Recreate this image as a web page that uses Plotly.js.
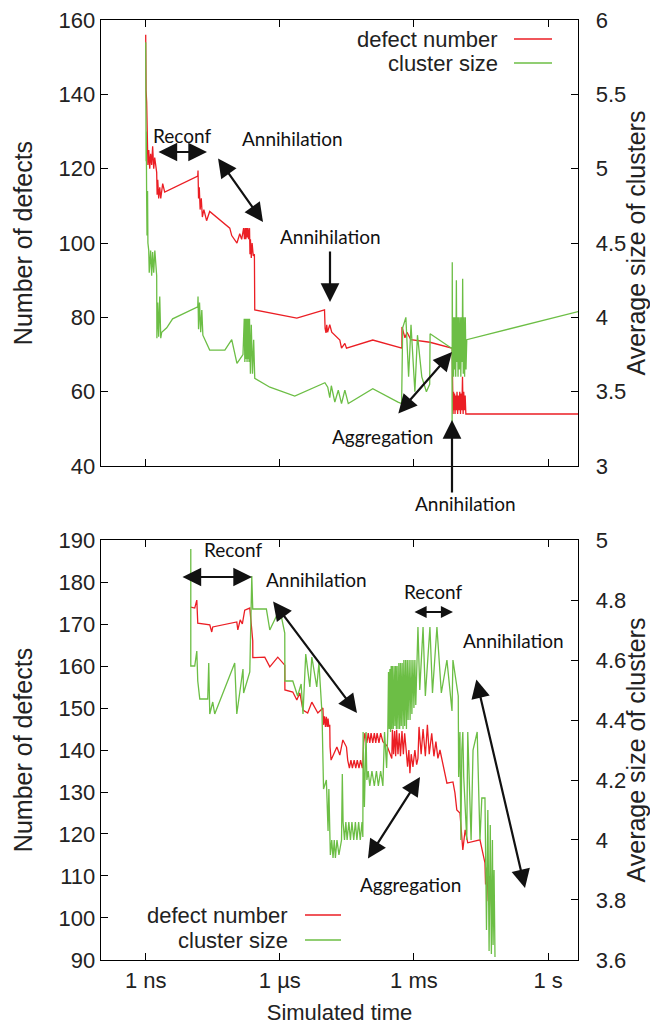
<!DOCTYPE html>
<html>
<head>
<meta charset="utf-8">
<script src="https://cdn.plot.ly/plotly-3.0.1.min.js"></script>
<style>html,body{margin:0;padding:0;background:#fff}#chart{width:650px;height:1029px}</style>
</head>
<body>
<div id="chart"></div>
<script>
// ---------- DATA (time in seconds) ----------
var tickVals = [1e-9, 1e-6, 1e-3, 1];
var tickText = ['1 ns', '1 µs', '1 ms', '1 s'];
var seriesNames = ['defect number', 'cluster size'];

// Top panel: defect number
var topDefT = [1.0e-9,1.0e-9,1.02e-9,1.05e-9,1.08e-9,1.12e-9,1.17e-9,1.23e-9,1.29e-9,1.36e-9,1.43e-9,1.51e-9,1.59e-9,1.76e-9,1.8e-9,1.86e-9,1.95e-9,2.06e-9,2.17e-9,2.4e-9,2.66e-9,
  1.46e-8,1.48e-8,1.52e-8,1.58e-8,1.65e-8,1.75e-8,1.85e-8,2.0e-8,2.3e-8,2.7e-8,7.6e-8,8.4e-8,1.1e-7,1.27e-7,1.4e-7,
  1.55e-7,1.62e-7,1.68e-7,1.74e-7,1.8e-7,1.86e-7,1.93e-7,2.0e-7,2.1e-7,2.15e-7,2.2e-7,2.3e-7,2.4e-7,2.55e-7,2.7e-7,2.75e-7,
  2.4e-6,1.0e-5,1.03e-5,1.08e-5,1.12e-5,1.17e-5,1.31e-5,1.45e-5,2.2e-5,2.4e-5,2.85e-5,3.1e-5,3.69e-5,1.2e-4,5.38e-4,5.4e-4,6.3e-4,7.0e-4,8.5e-4,2.28e-3,7.1e-3,
  7.2e-3,7.3e-3,7.5e-3,7.7e-3,7.9e-3,8.1e-3,8.3e-3,8.6e-3,8.9e-3,9.2e-3,9.5e-3,9.8e-3,1.02e-2,1.06e-2,1.1e-2,1.14e-2,1.18e-2,1.22e-2,1.26e-2,1.3e-2,1.35e-2,1.4e-2,1.45e-2,1.52e-2,4.9];
var topDefV = [156,151,141,138,126,121,125,120,124,121,126,120,123,119,113,117,112,115,112,116,113.7,
  118,119.5,112,115,109,112,107,109,106,108.5,104,102,100,102.5,101,
  104,101,104,101,104,101.5,104,101,104,97,101,96,100,96.5,97,82,
  79.8,82,77,75.8,78,76,78,76,73.9,71.7,73,71.7,72,73.9,71.7,77.4,74.5,76,74,73.3,71.7,
  72,64,54,60,55,59.5,54,59,55,60,54,59,55,60,54,59.5,55,64,54,60,55,59,54,54,54];

// Top panel: cluster size
var topCluT = [1.0e-9,1.0e-9,1.02e-9,1.03e-9,1.05e-9,1.07e-9,1.1e-9,1.12e-9,1.17e-9,1.2e-9,1.29e-9,1.36e-9,1.43e-9,1.51e-9,1.6e-9,1.76e-9,1.78e-9,1.86e-9,1.95e-9,2.06e-9,2.17e-9,2.28e-9,2.95e-9,4.0e-9,
  1.46e-8,1.48e-8,1.52e-8,1.6e-8,1.7e-8,1.8e-8,1.9e-8,2.7e-8,5.9e-8,8.4e-8,1.1e-7,1.5e-7,
  1.6e-7,1.65e-7,1.7e-7,1.75e-7,1.8e-7,1.85e-7,1.9e-7,1.95e-7,2.0e-7,2.05e-7,2.1e-7,2.2e-7,2.3e-7,2.45e-7,2.6e-7,2.75e-7,
  6.0e-7,2.16e-6,1.02e-5,1.18e-5,1.31e-5,1.42e-5,1.7e-5,2.03e-5,2.4e-5,2.85e-5,3.4e-5,1.2e-4,4.4e-4,
  5.3e-4,5.6e-4,6.6e-4,7.6e-4,8.6e-4,1.05e-3,1.2e-3,1.5e-3,1.9e-3,2.25e-3,2.3e-3,7.1e-3,
  7.15e-3,7.2e-3,7.3e-3,7.5e-3,7.7e-3,7.9e-3,8.1e-3,8.3e-3,8.6e-3,8.9e-3,9.1e-3,9.4e-3,9.7e-3,1.0e-2,1.04e-2,1.08e-2,1.12e-2,1.16e-2,1.2e-2,1.23e-2,1.27e-2,1.31e-2,1.36e-2,1.41e-2,1.46e-2,1.52e-2,4.9];
var topCluV = [5.85,5.3,5.05,5.25,4.8,4.55,4.85,4.5,4.45,4.3,4.45,4.28,4.44,4.3,4.45,4.28,3.86,4.1,3.87,4.14,3.86,3.9,3.93,3.99,
  4.07,4.14,3.92,4.1,3.9,4.05,3.88,3.78,3.78,3.85,3.69,3.75,
  3.99,3.7,3.99,3.72,3.99,3.7,3.99,3.72,3.99,3.7,3.99,3.62,3.95,3.62,3.85,3.59,
  3.53,3.47,3.56,3.53,3.46,3.54,3.43,3.51,3.42,3.51,3.42,3.52,3.43,
  3.42,3.93,4.0,3.6,3.95,3.5,3.88,3.6,3.5,3.55,3.89,3.79,
  3.24,4.37,3.7,4.0,3.6,4.0,3.65,4.0,3.6,4.25,3.7,4.0,3.6,4.0,3.65,4.0,3.6,4.0,3.7,4.26,3.62,4.0,3.6,4.0,3.65,3.85,4.04];

// Bottom panel: defect number
var botDefT = [1.02e-8,1.25e-8,1.39e-8,1.46e-8,2.71e-8,3.0e-8,3.16e-8,1.09e-7,1.15e-7,1.3e-7,1.45e-7,1.64e-7,2.13e-7,2.36e-7,2.48e-7,2.49e-7,4.61e-7,5.97e-7,9.0e-7,1.29e-6,1.3e-6,1.95e-6,2.4e-6,2.8e-6,3.3e-6,4.2e-6,5.2e-6,7.1e-6,9.2e-6,
  9.5e-6,1.0e-5,1.05e-5,1.1e-5,1.15e-5,1.2e-5,1.25e-5,1.31e-5,1.33e-5,1.4e-5,1.6e-5,1.89e-5,2.2e-5,2.57e-5,3.1e-5,3.3e-5,
  3.6e-5,3.9e-5,4.2e-5,4.6e-5,5.0e-5,5.4e-5,5.9e-5,6.4e-5,7.0e-5,7.2e-5,
  7.5e-5,8.0e-5,8.85e-5,9.5e-5,1.03e-4,1.1e-4,1.2e-4,1.3e-4,1.4e-4,1.5e-4,1.65e-4,1.8e-4,2.02e-4,
  2.5e-4,3.2e-4,3.3e-4,3.5e-4,3.7e-4,3.9e-4,4.1e-4,4.4e-4,4.7e-4,5.0e-4,5.4e-4,5.8e-4,6.2e-4,6.7e-4,7.2e-4,7.7e-4,8.13e-4,8.7e-4,9.5e-4,1.05e-3,1.15e-3,1.23e-3,
  1.3e-3,1.45e-3,1.6e-3,1.8e-3,2.0e-3,2.2e-3,2.5e-3,2.8e-3,3.1e-3,3.44e-3,3.82e-3,5.47e-3,7.46e-3,8.27e-3,9.1e-3,1.07e-2,1.18e-2,1.24e-2,1.4e-2,1.6e-2,3.0e-2,3.88e-2,4.0e-2,4.3e-2,4.6e-2,5.0e-2,5.5e-2,5.9e-2,6.0e-2];
var botDefV = [174,173.8,175.7,170.2,169.8,168.1,169.3,170.5,168.6,171,170,173.3,173.8,169.3,166,162,162.1,159.8,162.1,160.2,154.3,153.8,151.9,153.6,149.5,148.8,151.4,148.8,150,
  146,148,145.5,147.9,145.5,147.5,145.5,146,140.7,137.6,139,140.7,138.8,142.4,140.7,137.6,
  135.7,137.6,135.7,137.6,135.7,137.6,135.7,137.6,135.7,137,
  141.7,144,141.7,144,141.7,144,141.7,144,141.7,144,141.7,144,142,
  141,138,144.8,139,144.5,138.5,144.8,139,144,138.5,144.5,139,144,140,136,140,134.5,139,136,140,136.5,138,
  145.5,139,145,138.5,146,139,144,138.5,142,138,140,132.1,132.4,129.8,125.7,125,120.2,116.2,121,117.9,118.6,113.1,108,112,104,110,102,106,103];

// Bottom panel: cluster size
var botCluT = [1.02e-8,1.02e-8,1.25e-8,1.39e-8,1.46e-8,1.62e-8,2.44e-8,2.57e-8,2.71e-8,3.16e-8,3.5e-8,9.8e-8,1.09e-7,1.5e-7,1.55e-7,2.13e-7,2.36e-7,2.48e-7,5.0e-7,5.97e-7,1.0e-6,1.29e-6,1.3e-6,1.95e-6,2.5e-6,3.0e-6,3.3e-6,3.8e-6,4.7e-6,5.2e-6,6.7e-6,7.5e-6,8.8e-6,
  9.5e-6,1.1e-5,1.2e-5,1.25e-5,1.35e-5,1.45e-5,1.55e-5,1.65e-5,1.75e-5,1.9e-5,2.1e-5,2.4e-5,2.5e-5,2.6e-5,2.8e-5,3.0e-5,3.2e-5,3.5e-5,3.8e-5,4.1e-5,4.5e-5,4.9e-5,5.3e-5,5.8e-5,6.3e-5,6.9e-5,7.2e-5,
  7.3e-5,7.8e-5,8.5e-5,8.85e-5,9.5e-5,1.03e-4,1.15e-4,1.3e-4,1.45e-4,1.6e-4,1.8e-4,2.02e-4,2.2e-4,2.45e-4,
  2.6e-4,2.7e-4,2.8e-4,2.9e-4,3.0e-4,3.1e-4,3.2e-4,3.3e-4,3.45e-4,3.6e-4,3.75e-4,3.9e-4,4.05e-4,4.2e-4,4.4e-4,4.6e-4,4.8e-4,5.0e-4,5.2e-4,5.45e-4,5.7e-4,5.95e-4,6.2e-4,6.5e-4,6.8e-4,7.1e-4,7.4e-4,7.8e-4,8.2e-4,8.6e-4,9.0e-4,9.5e-4,1.0e-3,1.05e-3,1.1e-3,
  1.23e-3,1.35e-3,1.6e-3,1.8e-3,2.28e-3,2.6e-3,3.27e-3,4.1e-3,5.47e-3,7.1e-3,7.46e-3,9.8e-3,1.0e-2,1.07e-2,1.12e-2,1.18e-2,1.24e-2,1.3e-2,1.52e-2,1.6e-2,1.9e-2,2.1e-2,2.6e-2,3.0e-2,3.3e-2,3.88e-2,
  4.2e-2,4.5e-2,4.8e-2,5.1e-2,5.4e-2,5.7e-2,5.9e-2,6.2e-2,6.5e-2];
var botCluV = [4.97,4.58,4.58,4.63,4.53,4.47,4.47,4.59,4.42,4.46,4.42,4.59,4.42,4.57,4.49,4.56,4.88,4.77,4.77,4.7,4.77,4.69,4.53,4.53,4.48,4.52,4.42,4.62,4.51,4.61,4.51,4.59,4.42,
  4.17,4.2,4.03,4.17,3.95,4.0,3.94,4.0,3.94,4.0,3.95,4.0,4.22,4.06,4.0,4.06,4.0,4.06,4.0,4.06,4.0,4.06,4.0,4.06,4.0,4.06,4.01,
  4.36,4.11,4.36,4.2,4.23,4.18,4.23,4.18,4.23,4.18,4.23,4.18,4.36,4.24,
  4.36,4.56,4.37,4.57,4.36,4.58,4.37,4.58,4.37,4.58,4.38,4.58,4.37,4.58,4.37,4.59,4.37,4.59,4.38,4.59,4.37,4.6,4.38,4.6,4.37,4.6,4.4,4.6,4.4,4.6,4.42,4.6,4.44,4.6,4.45,
  4.71,4.5,4.71,4.48,4.71,4.49,4.71,4.49,4.6,4.43,4.6,4.48,4.21,4.36,4.0,4.3,4.36,4.21,4.0,4.36,4.0,4.3,4.36,4.0,4.14,4.14,
  3.7,4.1,3.63,4.05,3.62,4.0,3.65,3.9,3.61];

// ---------- STYLE ----------
var RED = 'rgb(235,30,36)';
var GREEN = 'rgb(108,190,69)';
var LW = 1.3;
var tickFont = {family: 'Liberation Sans, Arial, sans-serif', size: 22, color: '#222'};
var yTitleFont = {family: 'Liberation Sans, Arial, sans-serif', size: 25, color: '#222'};
var noteFont = {family: 'Lato, sans-serif', size: 19, color: '#111'};

var traces = [
  {x: topDefT, y: topDefV, xaxis: 'x', yaxis: 'y', type: 'scatter', mode: 'lines', name: seriesNames[0], line: {color: RED, width: LW}},
  {x: topCluT, y: topCluV, xaxis: 'x', yaxis: 'y2', type: 'scatter', mode: 'lines', name: seriesNames[1], line: {color: GREEN, width: LW}},
  {x: botDefT, y: botDefV, xaxis: 'x2', yaxis: 'y3', type: 'scatter', mode: 'lines', name: seriesNames[0], line: {color: RED, width: LW}},
  {x: botCluT, y: botCluV, xaxis: 'x2', yaxis: 'y4', type: 'scatter', mode: 'lines', name: seriesNames[1], line: {color: GREEN, width: LW}}
];

function xax(anchor, labels) {
  return {type: 'log', range: [-10, 0.67], domain: [0, 1], anchor: anchor,
    tickvals: tickVals, ticktext: tickText, ticks: 'inside', ticklen: 7, tickcolor: '#000',
    mirror: 'ticks', showline: true, linecolor: '#000', linewidth: 1.3, showgrid: false, zeroline: false,
    showticklabels: labels, tickfont: tickFont, fixedrange: true};
}
function yax(dom, rng, dt, title, standoff) {
  return {domain: dom, range: rng, dtick: dt, ticks: 'inside', ticklen: 7, tickcolor: '#000',
    showline: true, linecolor: '#000', linewidth: 1.3, showgrid: false, zeroline: false,
    tickfont: tickFont, title: {text: title, font: yTitleFont, standoff: standoff}};
}

var x2 = xax('y3', true);
x2.title = {text: 'Simulated time', font: tickFont, standoff: 13};

var yTop = yax([0.5255, 1], [40, 160], 20, 'Number of defects', 18);
var yTop2 = yax(null, [3, 6], 0.5, 'Average size of clusters', 7);
delete yTop2.domain; yTop2.overlaying = 'y'; yTop2.side = 'right'; yTop2.anchor = 'x'; yTop2.ticklabelstandoff = 12;
var yBot = yax([0, 0.4468], [90, 190], 10, 'Number of defects', 18);
yBot.anchor = 'x2';
var yBot2 = yax(null, [3.6, 5], 0.2, 'Average size of clusters', 7);
delete yBot2.domain; yBot2.overlaying = 'y3'; yBot2.side = 'right'; yBot2.anchor = 'x2'; yBot2.ticklabelstandoff = 12;

function pxX(p) { return (p - 101) / 477; }
function pxY(p) { return (960 - p) / 940; }

function txt(s, px, py, anchor) {
  return {text: s, xref: 'paper', yref: 'paper', x: pxX(px), y: pxY(py), showarrow: false,
    font: noteFont, xanchor: anchor || 'center', yanchor: 'middle'};
}
function arrow(hx, hy, tx, ty, both, size) {
  var s = size || 1.7;
  var a = {text: '', xref: 'paper', yref: 'paper', x: pxX(hx), y: pxY(hy), ax: tx - hx, ay: ty - hy,
    showarrow: true, arrowhead: 2, arrowsize: s, arrowwidth: 2.2, arrowcolor: '#111'};
  if (both) { a.arrowside = 'end+start'; a.startarrowhead = 2; a.startarrowsize = s; }
  return a;
}
function legText(s, px, py) {
  return {text: s, xref: 'paper', yref: 'paper', x: pxX(px), y: pxY(py), showarrow: false,
    font: tickFont, xanchor: 'right', yanchor: 'middle'};
}
function legLine(x0, x1, py, c) {
  return {type: 'line', xref: 'paper', yref: 'paper', x0: pxX(x0), x1: pxX(x1), y0: pxY(py), y1: pxY(py),
    line: {color: c, width: LW}};
}

var annotations = [
  txt('Reconf', 182, 135), arrow(207, 152, 157, 152, true),
  txt('Annihilation', 292, 138), arrow(263, 222, 217, 157, true),
  txt('Annihilation', 330, 236), arrow(330, 302, 330, 250, false),
  txt('Aggregation', 382, 436), arrow(452, 352, 397, 415, true),
  txt('Annihilation', 465, 504), arrow(452, 420, 452, 494, false),
  txt('Reconf', 233, 549), arrow(252, 577, 181, 577, true),
  txt('Annihilation', 316, 579), arrow(357, 713, 272, 600, true),
  txt('Reconf', 433, 591), arrow(453, 612, 413, 612, true, 1.1),
  txt('Annihilation', 513, 640), arrow(525, 888, 476, 678, true),
  txt('Aggregation', 410, 884), arrow(420, 777, 367, 860, true),
  legText(seriesNames[0], 500, 39), legText(seriesNames[1], 500, 63),
  legText(seriesNames[0], 290, 915), legText(seriesNames[1], 290, 940)
];
var shapes = [
  legLine(514, 552, 39, RED), legLine(514, 552, 63, GREEN),
  legLine(305, 341, 915, RED), legLine(305, 341, 940, GREEN)
];

var layout = {
  width: 650, height: 1029,
  margin: {l: 101, r: 72, t: 20, b: 69, pad: 0},
  paper_bgcolor: '#fff', plot_bgcolor: '#fff',
  showlegend: false, hovermode: false,
  xaxis: xax('y', false), yaxis: yTop, yaxis2: yTop2,
  xaxis2: x2, yaxis3: yBot, yaxis4: yBot2,
  annotations: annotations, shapes: shapes
};

Plotly.newPlot('chart', traces, layout, {staticPlot: true, displayModeBar: false});
</script>
</body>
</html>
